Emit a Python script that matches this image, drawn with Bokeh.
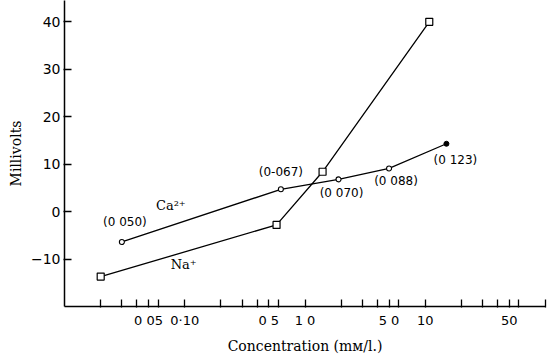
from bokeh.plotting import figure
from bokeh.models import FixedTicker, Range1d, ColumnDataSource
from bokeh.core.properties import value
from bokeh.embed import file_html
from bokeh.resources import INLINE

# Membrane potential vs ion concentration (log scale)
ca_conc = [0.03, 0.63, 1.9, 5.0, 15.0]
ca_mv = [-6.4, 4.7, 6.8, 9.1, 14.3]
ca_labels = ["(0 050)", "(0-067)", "(0 070)", "(0 088)", "(0 123)"]

na_conc = [0.02, 0.58, 1.4, 10.8]
na_mv = [-13.7, -2.8, 8.4, 40.0]

x_ticks = [0.02, 0.03, 0.04, 0.05, 0.06, 0.1, 0.2, 0.3, 0.4, 0.5, 0.6,
           1, 2, 3, 4, 5, 6, 10, 20, 30, 40, 50, 60, 100]
x_tick_labels = {0.05: "0 05", 0.1: "0·10", 0.5: "0 5", 1: "1 0",
                 5: "5 0", 10: "10", 50: "50"}
y_ticks = [-10, 0, 10, 20, 30, 40]

p = figure(width=551, height=356, x_axis_type="log",
           x_range=Range1d(0.01, 100), y_range=Range1d(-20, 44.5),
           output_backend="svg", toolbar_location=None,
           min_border_left=64, min_border_right=6,
           min_border_top=0, min_border_bottom=47)
p.outline_line_color = None
p.grid.grid_line_color = None

p.xaxis.ticker = FixedTicker(ticks=x_ticks, minor_ticks=[])
p.xaxis.major_label_overrides = {t: x_tick_labels.get(t, "") for t in x_ticks}
p.yaxis.ticker = FixedTicker(ticks=y_ticks, minor_ticks=[])
p.yaxis.major_label_overrides = {t: ("\u221210" if t == -10 else str(t)) for t in y_ticks}

for ax in (p.xaxis, p.yaxis):
    ax.axis_line_color = "black"
    ax.axis_line_width = 1.5
    ax.major_tick_line_color = "black"
    ax.major_tick_line_width = 1.3
    ax.major_tick_in = 7
    ax.major_tick_out = 1
    ax.minor_tick_line_color = None
    ax.major_label_text_font = "DejaVu Sans"
    ax.major_label_text_color = "black"
    ax.axis_label_text_font = "DejaVu Serif"
    ax.axis_label_text_font_style = "normal"
    ax.axis_label_text_font_size = "14px"
    ax.axis_label_text_color = "black"

p.xaxis.major_label_text_font_size = "13px"
p.yaxis.major_label_text_font_size = "14px"
p.xaxis.major_label_standoff = 5
p.yaxis.major_label_standoff = 3
p.xaxis.axis_label = "Concentration (m\u1d0d/l.)"
p.yaxis.axis_label = "Millivolts"
p.xaxis.axis_label_standoff = 7
p.yaxis.axis_label_standoff = 4

# Na+ series (open squares)
p.line(na_conc, na_mv, line_color="black", line_width=1.3)
p.scatter(na_conc, na_mv, marker="square", size=7, fill_color="white",
          line_color="black", line_width=1.2)

# Ca2+ series (open circles, last point filled)
p.line(ca_conc, ca_mv, line_color="black", line_width=1.3)
p.scatter(ca_conc[:-1], ca_mv[:-1], marker="circle", size=5, fill_color="white",
          line_color="black", line_width=1.1)
p.scatter(ca_conc[-1:], ca_mv[-1:], marker="circle", size=5, fill_color="black",
          line_color="black")

# Value labels beside each Ca2+ point
dx = [0.025, 0.0, 0.025, 0.058, 0.075]
lab_x = [c * (10 ** d) for c, d in zip(ca_conc, dx)]
src = ColumnDataSource(dict(x=lab_x, y=ca_mv, t=ca_labels,
                            yo=[-20, -17, 14, 13, 16]))
p.text(x="x", y="y", text="t", source=src, y_offset="yo",
       text_font=value("DejaVu Sans"), text_font_size="12px",
       text_align="center", text_baseline="middle", text_color="black")

p.text(x=[0.0766], y=[1.3], text=["Ca\u00b2\u207a"], text_font=value("DejaVu Serif"),
       text_font_size="13px", text_align="center", text_baseline="middle")
p.text(x=[0.098], y=[-11.2], text=["Na\u207a"], text_font=value("DejaVu Serif"),
       text_font_size="13px", text_align="center", text_baseline="middle")

open("out.html", "w").write(file_html(p, INLINE))
